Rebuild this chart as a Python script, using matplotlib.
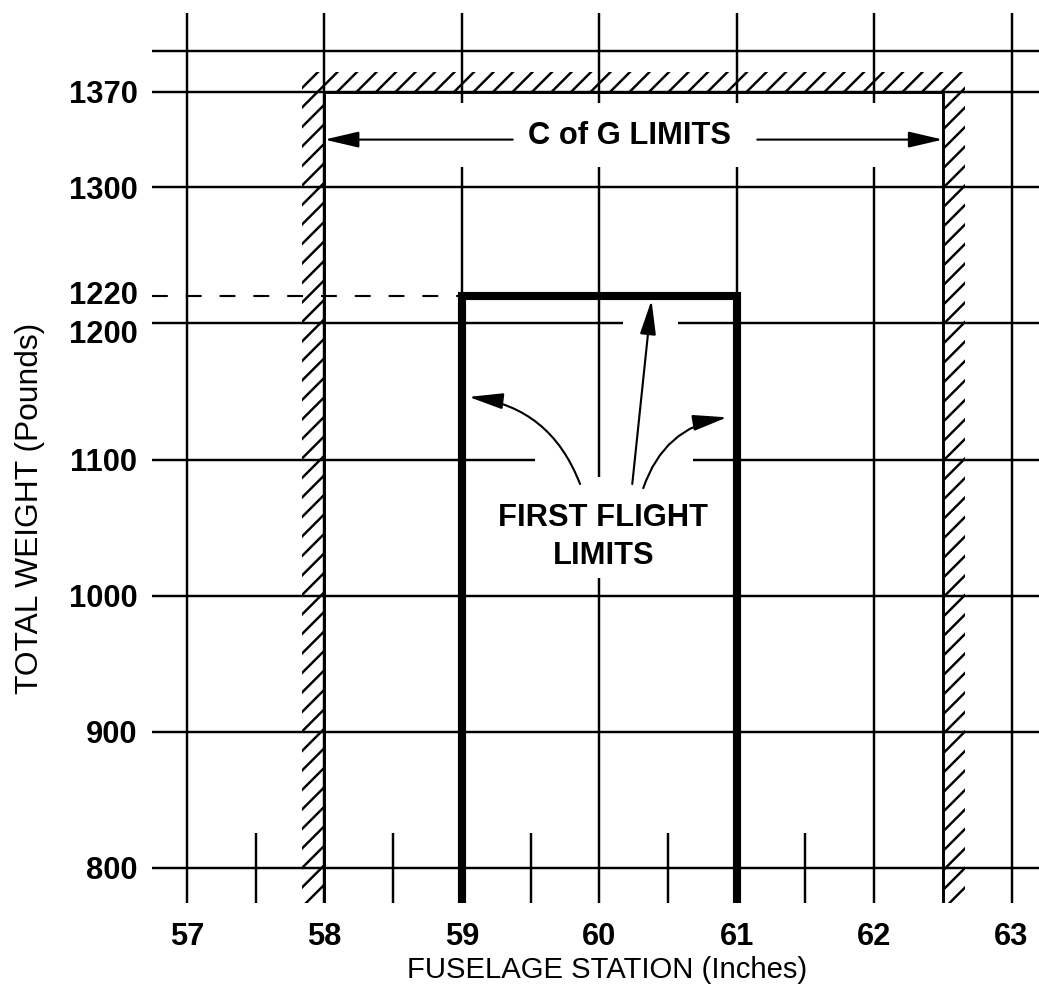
import matplotlib
matplotlib.use("Agg")

import matplotlib.pyplot as plt
from matplotlib.patches import Rectangle
from matplotlib.transforms import ScaledTranslation

# chart values
stations = [57, 58, 59, 60, 61, 62, 63]
half_stations = [57.5, 58.5, 59.5, 60.5, 61.5]
grid_weights = [800, 900, 1000, 1100, 1200, 1300, 1370, 1400]
weight_ticks = [800, 900, 1000, 1100, 1200, 1220, 1300, 1370]
station_labels = [str(s) for s in stations]
weight_labels = [str(w) for w in weight_ticks]

cg_limits = (58.0, 62.5)
cg_max_weight = 1370
first_flight = (59.0, 61.0)
first_flight_max = 1220

DPI = 117
FONT = ["Liberation Sans", "DejaVu Sans"]
plt.rcParams["font.family"] = FONT
plt.rcParams["hatch.linewidth"] = 1.5

fig = plt.figure(figsize=(1039 / DPI, 1006 / DPI), dpi=DPI)
ax = fig.add_axes([0.1463, 0.1024, 0.8537, 0.8847])
x_lo, x_hi = 56.745, 63.2
y_lo, y_hi = 774.3, 1428
ax.set_xlim(x_lo, x_hi)
ax.set_ylim(y_lo, y_hi)
for sp in ax.spines.values():
    sp.set_visible(False)


def pieces(lo, hi, gaps):
    pts = [lo]
    for a, b in gaps:
        pts += [a, b]
    pts.append(hi)
    return list(zip(pts[0::2], pts[1::2]))


grid_kw = dict(color="black", lw=1.5, zorder=2)

# vertical grid, broken where the labels sit
label_band = (1315, 1362)
v_gaps = {59: [label_band], 60: [(1013, 1087), label_band], 61: [label_band], 62: [label_band]}
for x in stations:
    for a, b in pieces(y_lo, y_hi, v_gaps.get(x, [])):
        ax.vlines(x, a, b, **grid_kw)
ax.vlines(half_stations, y_lo, 826, **grid_kw)

# horizontal grid
h_gaps = {1100: [(59.53, 60.68)], 1200: [(60.17, 60.57)]}
for y in grid_weights:
    for a, b in pieces(x_lo, x_hi, h_gaps.get(y, [])):
        ax.hlines(y, a, b, **grid_kw)

ax.hlines(first_flight_max, x_lo, first_flight[0], color="black", lw=1.3,
          linestyles=(0, (7.5, 8.5)), zorder=2)

# C of G envelope with hatching on the outside
fwd, aft = cg_limits
bw, bh = 0.16, 15
hatch_kw = dict(fill=False, hatch="//", lw=0, edgecolor="black", zorder=3)
ax.add_patch(Rectangle((fwd - bw, y_lo), bw, cg_max_weight - y_lo, **hatch_kw))
ax.add_patch(Rectangle((aft, y_lo), bw, cg_max_weight - y_lo, **hatch_kw))
ax.add_patch(Rectangle((fwd - bw, cg_max_weight), aft + bw - (fwd - bw), bh, **hatch_kw))
ax.plot([fwd, fwd, aft, aft], [y_lo, cg_max_weight, cg_max_weight, y_lo],
        color="black", lw=1.8, zorder=4)

# first flight box
ax.plot([first_flight[0], first_flight[0], first_flight[1], first_flight[1]],
        [y_lo, first_flight_max, first_flight_max, y_lo],
        color="black", lw=5, solid_joinstyle="miter", solid_capstyle="butt", zorder=5)

txt_kw = dict(fontsize=19, fontweight="bold", ha="center", va="center", zorder=6)
arrow = "-|>,head_length=1.2,head_width=0.28"
ax.text(60.22, 1338, "C of G LIMITS", **txt_kw)
for tip, tail in [((fwd, 1335), (59.37, 1335)), ((aft, 1335), (61.15, 1335))]:
    ax.annotate("", xy=tip, xytext=tail,
                arrowprops=dict(arrowstyle=arrow, mutation_scale=15, lw=1.3,
                                color="black", shrinkA=0, shrinkB=0))

ax.text(60.03, 1043, "FIRST FLIGHT\nLIMITS", multialignment="center",
        linespacing=1.35, **txt_kw)
for tip, tail, rad in [((59.05, 1146), (59.86, 1082), 0.3),
                       ((60.38, 1217), (60.24, 1082), 0.0),
                       ((60.93, 1131), (60.32, 1079), -0.3)]:
    ax.annotate("", xy=tip, xytext=tail,
                arrowprops=dict(arrowstyle=arrow, mutation_scale=15, lw=1.3,
                                color="black", shrinkA=0, shrinkB=0,
                                connectionstyle=f"arc3,rad={rad}"))

ax.set_xticks(stations, station_labels)
ax.set_yticks(weight_ticks, weight_labels)
ax.tick_params(axis="both", length=0, labelsize=19)
ax.tick_params(axis="x", pad=12)
ax.tick_params(axis="y", pad=9)
for lab in ax.get_xticklabels() + ax.get_yticklabels():
    lab.set_fontweight("bold")
# nudge the two crowded weight labels apart
for lab in ax.get_yticklabels():
    shift = {"1200": -5, "1220": 2}.get(lab.get_text(), 0)
    if shift:
        lab.set_transform(lab.get_transform() + ScaledTranslation(0, shift / 72, fig.dpi_scale_trans))

fig.text(607 / 1039, 1 - 970 / 1006, "FUSELAGE STATION (Inches)",
         fontsize=18, ha="center", va="center")
fig.text(30 / 1039, 1 - 508 / 1006, "TOTAL WEIGHT (Pounds)",
         fontsize=19.5, rotation=90, ha="center", va="center")

fig.savefig("out.png", dpi=DPI, facecolor="white")
